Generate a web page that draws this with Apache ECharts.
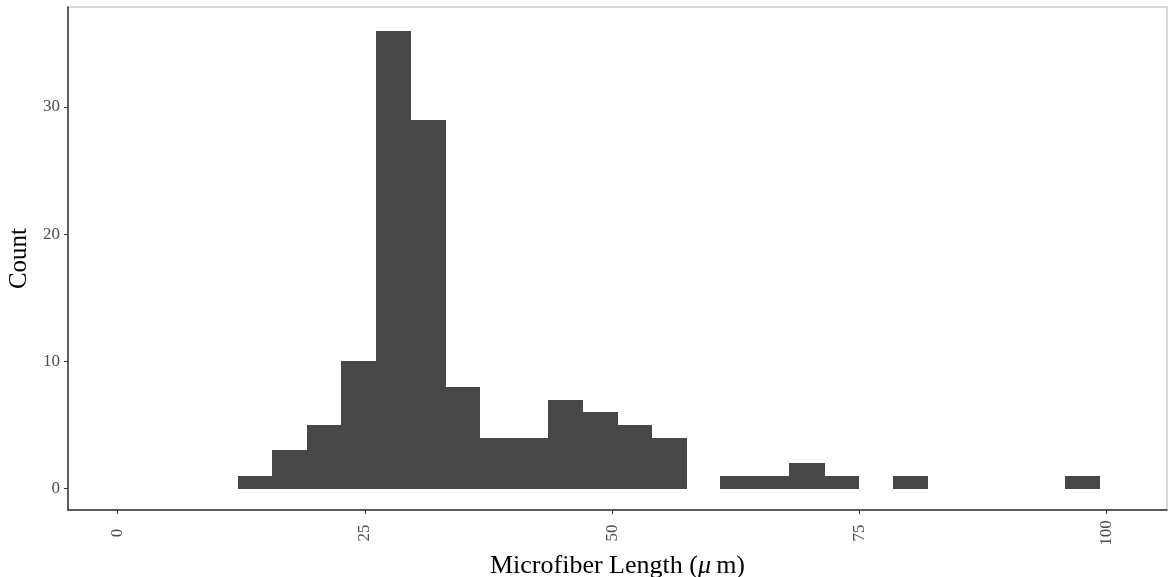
<!DOCTYPE html>
<html>
<head>
<meta charset="utf-8">
<script src="https://cdn.jsdelivr.net/npm/echarts@6/dist/echarts.min.js"></script>
<style>html,body{margin:0;padding:0;background:#fff}#c{width:1171px;height:577px}</style>
</head>
<body>
<div id="c"></div>
<script>
// Histogram bin edges (microfiber length, µm)
var binEdges = [12.18, 15.66, 19.15, 22.63, 26.11, 29.60, 33.08, 36.56, 40.04, 43.53,
  47.01, 50.49, 53.98, 57.46, 60.94, 64.43, 67.91, 71.39, 74.87, 78.36,
  81.84, 85.32, 88.81, 92.29, 95.77, 99.25];
// Counts per bin
var binCounts = [1, 3, 5, 10, 36, 29, 8, 4, 4, 7, 6, 5, 4, 0, 1, 1, 2, 1, 0, 1, 0, 0, 0, 0, 1];
var xTicks = [0, 25, 50, 75, 100];
var yTicks = [0, 10, 20, 30];

var data = [];
for (var i = 0; i < binCounts.length; i++) {
  if (binCounts[i] > 0) data.push([binEdges[i], binEdges[i + 1], binCounts[i]]);
}

var FONT = '"Liberation Serif", "DejaVu Serif", serif';
var chart = echarts.init(document.getElementById('c'), null, {renderer: 'canvas'});
chart.setOption({
  animation: false,
  backgroundColor: '#ffffff',
  grid: {left: 68, right: 4, top: 7, bottom: 67, outerBoundsMode: 'none', containLabel: false,
    show: true, borderColor: '#cccccc', borderWidth: 1.5, backgroundColor: 'transparent'},
  xAxis: {
    type: 'value', min: -5, max: 106.1, interval: 25,
    name: 'Microfiber Length ({i|μ}\u2009m)', nameLocation: 'middle', nameGap: 38,
    nameTextStyle: {fontFamily: FONT, fontSize: 26, color: '#000',
      rich: {i: {fontFamily: FONT, fontSize: 26, fontStyle: 'italic', color: '#000'}}},
    axisLine: {show: true, onZero: false, lineStyle: {color: '#333', width: 1.5}},
    axisTick: {show: true, length: 4, lineStyle: {color: '#333', width: 1}, customValues: xTicks},
    axisLabel: {rotate: 90, align: 'center', verticalAlign: 'middle', margin: 23,
      fontFamily: FONT, fontSize: 17, color: '#4d4d4d', customValues: xTicks,
      formatter: function (v) { return String(v); }},
    splitLine: {show: false}
  },
  yAxis: {
    type: 'value', min: -1.68, max: 37.85,
    name: 'Count', nameLocation: 'middle', nameGap: 35,
    nameTextStyle: {fontFamily: FONT, fontSize: 25, color: '#000'},
    axisLine: {show: true, onZero: false, lineStyle: {color: '#333', width: 1.5}},
    axisTick: {show: true, length: 4, lineStyle: {color: '#333', width: 1}, customValues: yTicks},
    axisLabel: {margin: 8, fontFamily: FONT, fontSize: 17, color: '#4d4d4d', customValues: yTicks},
    splitLine: {show: false}
  },
  series: [{
    type: 'custom',
    data: data,
    encode: {x: [0, 1], y: 2},
    renderItem: function (params, api) {
      var p0 = api.coord([api.value(0), api.value(2)]);
      var p1 = api.coord([api.value(1), 0]);
      var x0 = Math.round(p0[0]), x1 = Math.round(p1[0]);
      var y0 = Math.round(p0[1]), y1 = Math.round(p1[1]);
      return {
        type: 'rect',
        shape: {x: x0, y: y0, width: x1 - x0 + 1, height: y1 - y0},
        style: {fill: '#474747'}
      };
    }
  }]
});
</script>
</body>
</html>
